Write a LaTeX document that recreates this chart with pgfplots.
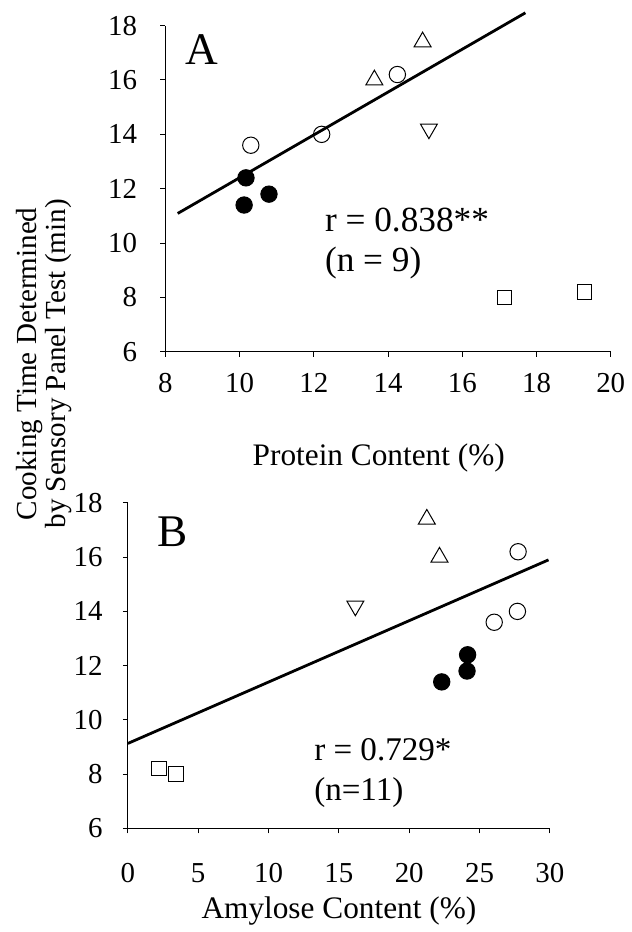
\documentclass[border=0pt]{standalone}
\usepackage{fontspec}
\setmainfont{Liberation Serif}
\usepackage{pgfplots}
\pgfplotsset{compat=1.18}

\pgfplotsset{
  panel/.style={
    scale only axis,
    axis x line=bottom, axis y line=left,
    axis line style={-, line width=0.5pt},
    tick align=outside, major tick length=2.5pt,
    tick style={line width=0.5pt, black},
    ymin=6, ymax=18, ytick={6,8,...,18},
    clip=false,
    /pgf/number format/assume math mode=true,
    tick label style={font=\fontsize{14.5}{16}\selectfont},
    label style={font=\fontsize{15.7}{18}\selectfont},
  },
  filled/.style={only marks, mark=*, mark size=4.1pt, mark options={fill=black, draw=black, line width=0.5pt}},
  opencirc/.style={only marks, mark=o, mark size=4.1pt, mark options={line width=0.5pt}},
  triup/.style={only marks, mark=triangle, mark size=4.9pt, mark options={line width=0.5pt}},
  tridown/.style={only marks, mark=triangle, mark size=4.9pt, mark options={line width=0.5pt, rotate=180}},
  sq/.style={only marks, mark=square, mark size=3.6pt, mark options={line width=0.5pt}},
  fit/.style={no marks, line width=1.4pt, black},
}

\begin{document}
\begin{tikzpicture}[x=1pt,y=1pt]
\path (0,0) rectangle (315.5,466);

% panel A: protein
\begin{axis}[panel, at={(83pt,289.5pt)}, anchor=south west,
  width=223.35pt, height=163.65pt,
  xmin=8, xmax=20, xtick={8,10,...,20},
  xticklabel style={anchor=base, yshift=-18pt},
  yticklabel style={anchor=east, inner sep=0pt, xshift=-11.5pt},
  xlabel={Protein Content (\%)},
  xlabel style={at={(axis description cs:0.479,0)}, anchor=base, yshift=-57pt},
]
\addplot[fit] coordinates {(8.33,11.09) (17.70,18.47)};
\addplot[filled] coordinates {(10.17,12.4) (10.12,11.4) (10.79,11.8)};
\addplot[opencirc] coordinates {(10.30,13.6) (12.21,14.0) (14.25,16.2)};
\addplot[triup] coordinates {(13.63,16.0) (14.93,17.4)};
\addplot[tridown] coordinates {(15.10,14.2)};
\addplot[sq] coordinates {(17.13,8.0) (19.29,8.2)};
\node[font=\fontsize{22.7}{24}\selectfont] at (axis cs:8.98,17.12) {A};
\node[anchor=base west, inner sep=0pt, font=\fontsize{17.7}{20}\selectfont] at (axis cs:12.29,10.44) {r = 0.838**};
\node[anchor=base west, inner sep=0pt, font=\fontsize{17.7}{20}\selectfont] at (axis cs:12.29,8.97) {(n = 9)};
\end{axis}

% panel B: amylose
\begin{axis}[panel, at={(64.15pt,50.5pt)}, anchor=south west,
  width=211.7pt, height=163.2pt,
  xmin=0, xmax=30, xtick={0,5,...,30},
  xticklabel style={anchor=base, yshift=-24.5pt},
  yticklabel style={anchor=east, inner sep=0pt, xshift=-10pt},
  xlabel={Amylose Content (\%)},
  xlabel style={at={(axis description cs:0.5,0)}, anchor=base, yshift=-45.3pt},
]
\addplot[fit] coordinates {(0,9.13) (29.9,15.9)};
\addplot[filled] coordinates {(24.15,12.4) (24.11,11.8) (22.31,11.4)};
\addplot[opencirc] coordinates {(27.74,16.2) (26.04,13.6) (27.69,14.0)};
\addplot[triup] coordinates {(21.25,17.4) (22.15,16.0)};
\addplot[tridown] coordinates {(16.17,14.2)};
\addplot[sq] coordinates {(2.2,8.2) (3.43,8.0)};
\node[font=\fontsize{22.7}{24}\selectfont] at (axis cs:3.19,16.94) {B};
\node[anchor=base west, inner sep=0pt, font=\fontsize{16.6}{19}\selectfont] at (axis cs:13.22,8.5) {r = 0.729*};
\node[anchor=base west, inner sep=0pt, font=\fontsize{16.6}{19}\selectfont] at (axis cs:13.22,7.03) {(n=11)};
\end{axis}

\node[rotate=90, anchor=base, font=\fontsize{14.6}{15}\selectfont] at (18.5pt,283.5pt) {Cooking Time Determined};
\node[rotate=90, anchor=base, font=\fontsize{14.6}{15}\selectfont] at (33pt,283.5pt) {by Sensory Panel Test (min)};
\end{tikzpicture}
\end{document}
